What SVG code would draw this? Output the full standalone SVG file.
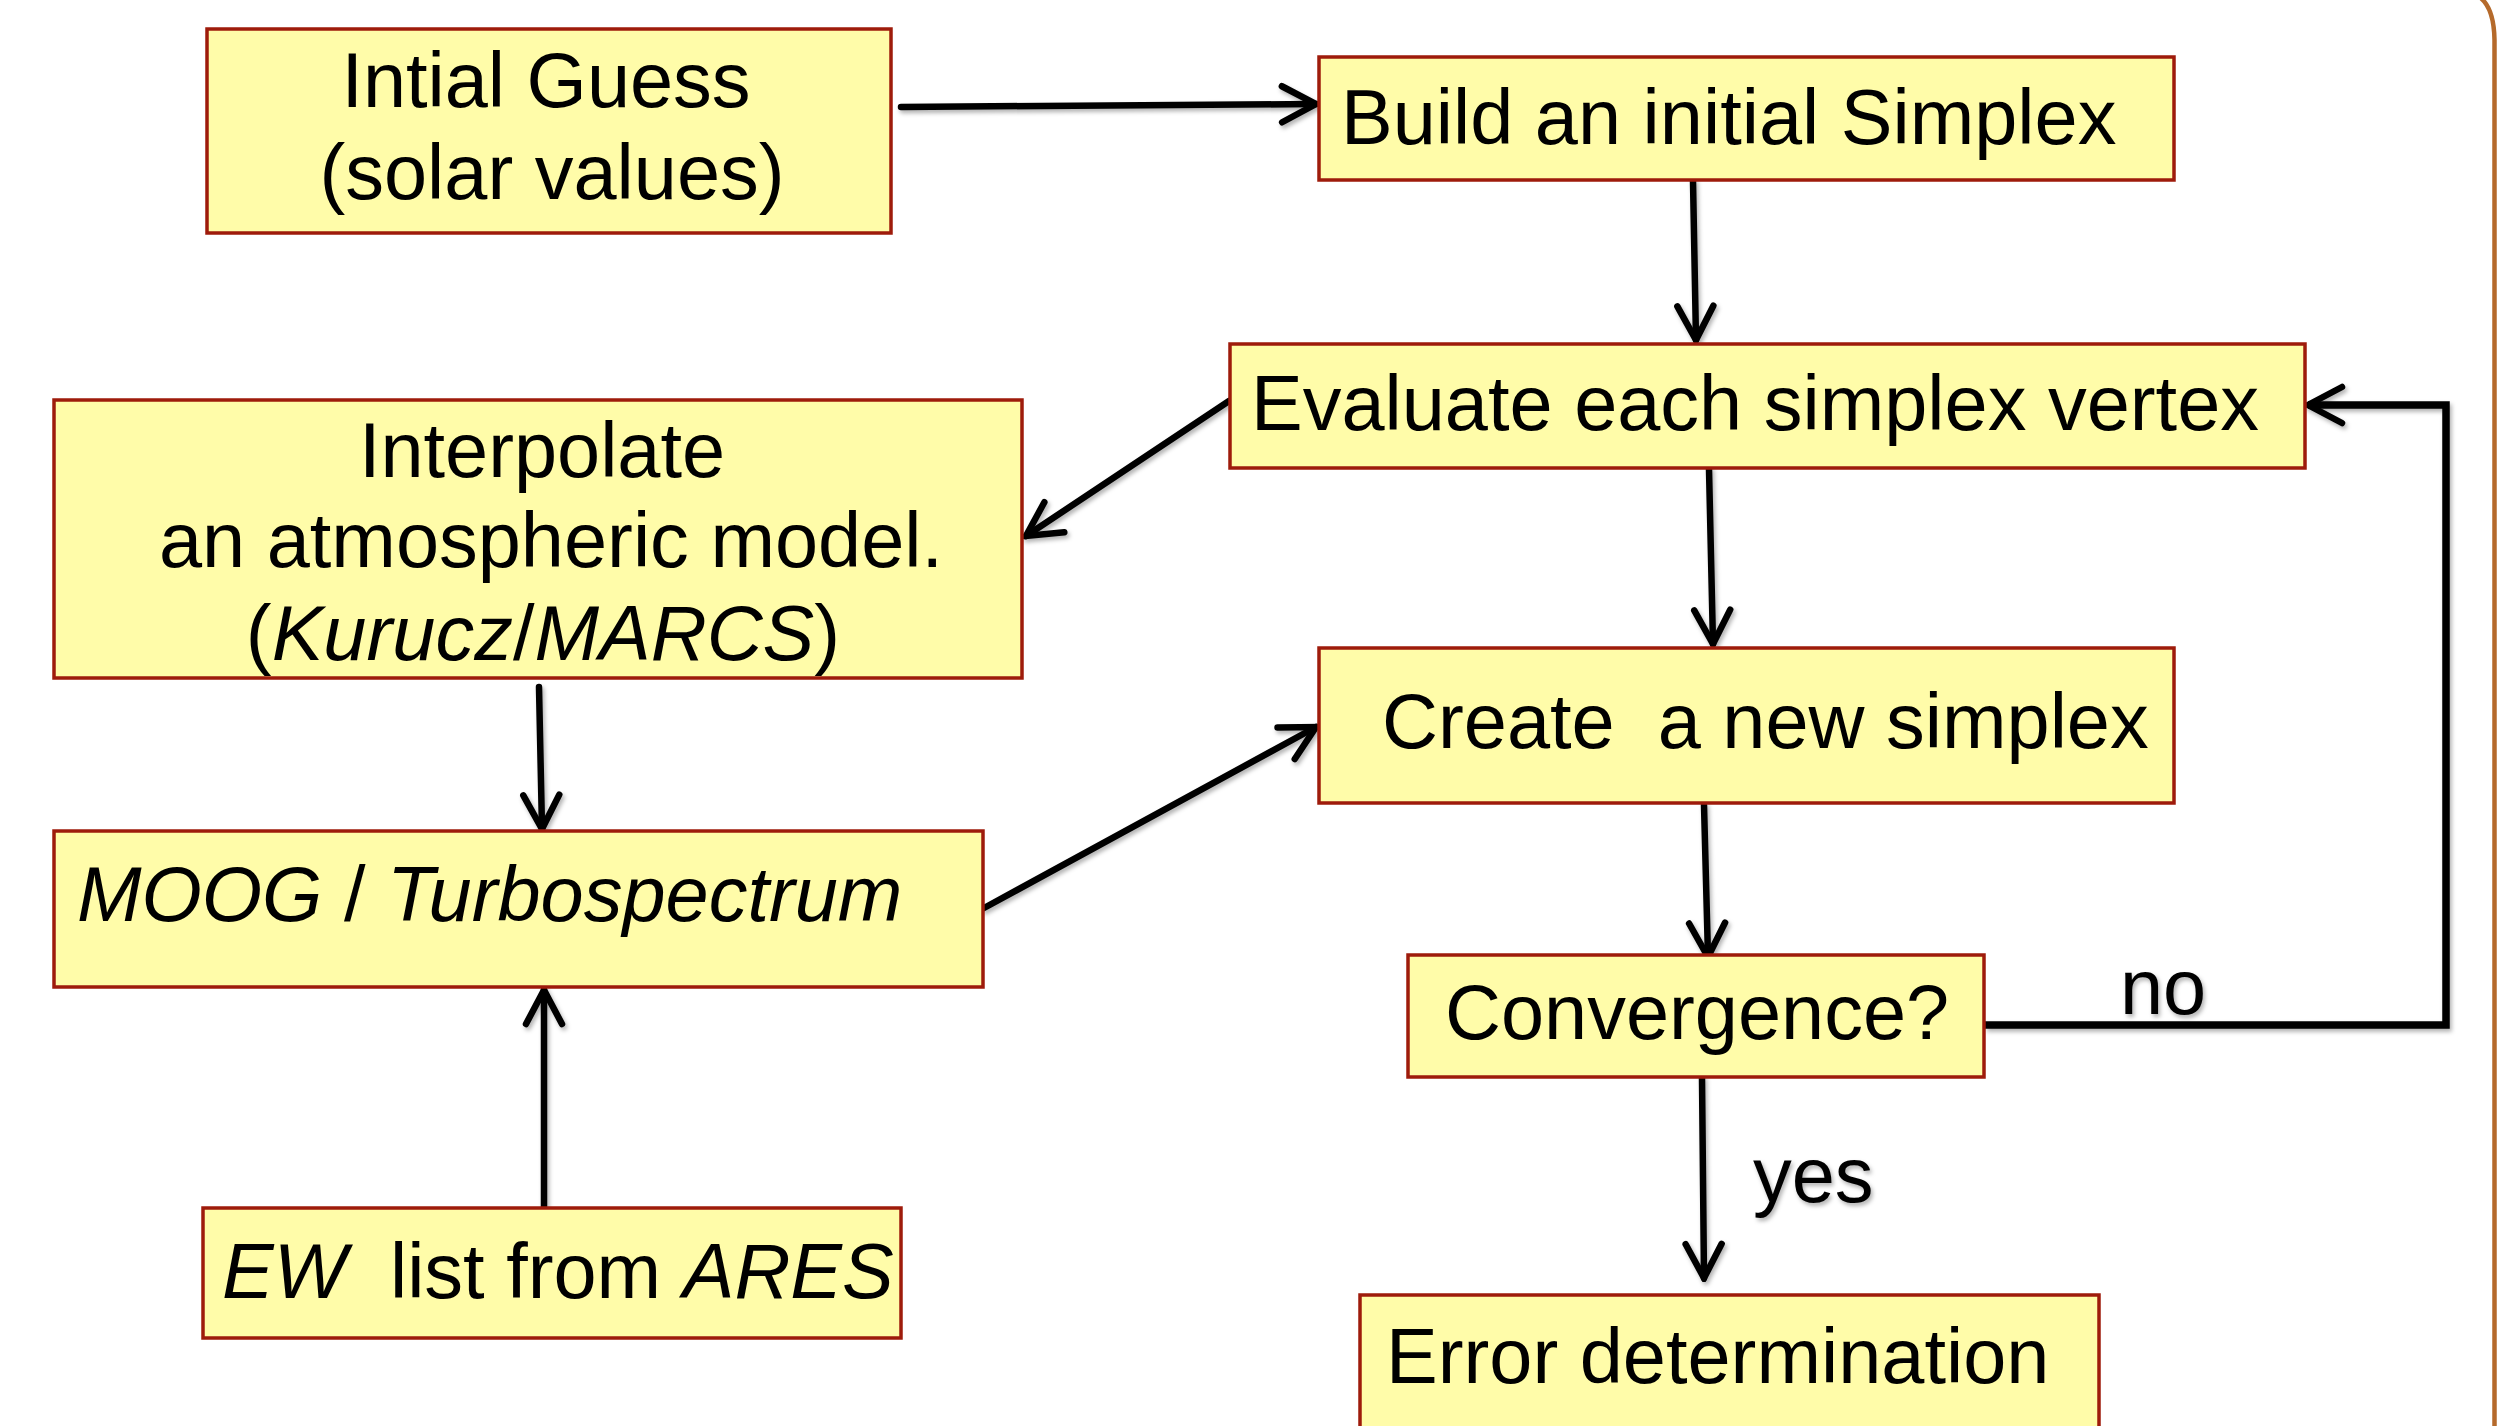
<svg xmlns="http://www.w3.org/2000/svg" width="2497" height="1426" viewBox="0 0 2497 1426">
<style>
.box{fill:#FFFCA9;stroke:#9E1B0B;stroke-width:3.5}
.t{font-family:"Liberation Sans",Arial,sans-serif;font-size:77.5px;fill:#000}
.i{font-style:italic}
.c{fill:none;stroke:#000;stroke-width:6.5;stroke-linecap:round;stroke-linejoin:miter}
.frame{fill:none;stroke:#B56A2B;stroke-width:4.5}
</style>
<defs>
<marker id="arr" viewBox="0 0 44 44" refX="40" refY="22" markerWidth="44" markerHeight="44" markerUnits="userSpaceOnUse" orient="auto">
<path d="M6 4 L40 22 L6 40" fill="none" stroke="#000" stroke-width="6.5" stroke-linecap="round" stroke-linejoin="miter"/>
</marker>
<filter id="sh" x="-10%" y="-10%" width="120%" height="120%">
<feDropShadow dx="2" dy="3" stdDeviation="2" flood-color="#000" flood-opacity="0.3"/>
</filter>
</defs>
<rect width="2497" height="1426" fill="#fff"/>
<path class="frame" d="M2478 -4 Q2494 6 2494.5 40 L2494.5 1430"/>

<g id="connectors" filter="url(#sh)">
<line class="c" x1="901" y1="107" x2="1316" y2="104" marker-end="url(#arr)"/>
<line class="c" x1="1693" y1="181" x2="1696" y2="340" marker-end="url(#arr)"/>
<line class="c" x1="1229" y1="401" x2="1026" y2="536" marker-end="url(#arr)"/>
<line class="c" x1="1709" y1="469" x2="1713" y2="644" marker-end="url(#arr)"/>
<line class="c" x1="539" y1="687" x2="542" y2="829" marker-end="url(#arr)"/>
<line class="c" x1="544" y1="1207" x2="544" y2="990" marker-end="url(#arr)"/>
<line class="c" x1="984" y1="908" x2="1316" y2="727" marker-end="url(#arr)"/>
<line class="c" x1="1704" y1="805" x2="1708" y2="957" marker-end="url(#arr)"/>
<line class="c" x1="1702" y1="1078" x2="1704" y2="1278" marker-end="url(#arr)"/>
<path class="c" style="stroke-width:7.5;stroke-linecap:butt" d="M1985 1025 L2446 1025 L2446 405 L2308 405" marker-end="url(#arr)"/>
<text class="t" x="2120" y="1014">no</text>
<text class="t" x="1753" y="1202">yes</text>
</g>

<g id="n-initial-guess">
<rect class="box" x="207" y="29" width="684" height="204"/>
<text class="t" x="546" y="107" text-anchor="middle">Intial Guess</text>
<text class="t" x="552" y="199" text-anchor="middle">(solar values)</text>
</g>

<g id="n-build-simplex">
<rect class="box" x="1319" y="57" width="855" height="123"/>
<text class="t" x="1341" y="144">Build an initial Simplex</text>
</g>

<g id="n-evaluate">
<rect class="box" x="1230" y="344" width="1075" height="124"/>
<text class="t" x="1251" y="430">Evaluate each simplex vertex</text>
</g>

<g id="n-interpolate">
<rect class="box" x="54" y="400" width="968" height="278"/>
<text class="t" x="542" y="477" text-anchor="middle">Interpolate</text>
<text class="t" x="551" y="567" text-anchor="middle">an atmospheric model.</text>
<text class="t" x="543" y="660" text-anchor="middle">(<tspan class="i">Kurucz</tspan>/<tspan class="i">MARCS</tspan>)</text>
</g>

<g id="n-create">
<rect class="box" x="1319" y="648" width="855" height="155"/>
<text class="t" x="1382" y="748" xml:space="preserve">Create  a new simplex</text>
</g>

<g id="n-moog">
<rect class="box" x="54" y="831" width="929" height="156"/>
<text class="t" x="77" y="921"><tspan class="i">MOOG</tspan> / <tspan class="i">Turbospectrum</tspan></text>
</g>

<g id="n-convergence">
<rect class="box" x="1408" y="955" width="576" height="122"/>
<text class="t" x="1445" y="1039">Convergence?</text>
</g>

<g id="n-ew">
<rect class="box" x="203" y="1208" width="698" height="130"/>
<text class="t" x="222" y="1298" xml:space="preserve"><tspan class="i">EW</tspan>  list from <tspan class="i">ARES</tspan></text>
</g>

<g id="n-error">
<rect class="box" x="1360" y="1295" width="739" height="160"/>
<text class="t" x="1386" y="1383">Error determination</text>
</g>
</svg>
